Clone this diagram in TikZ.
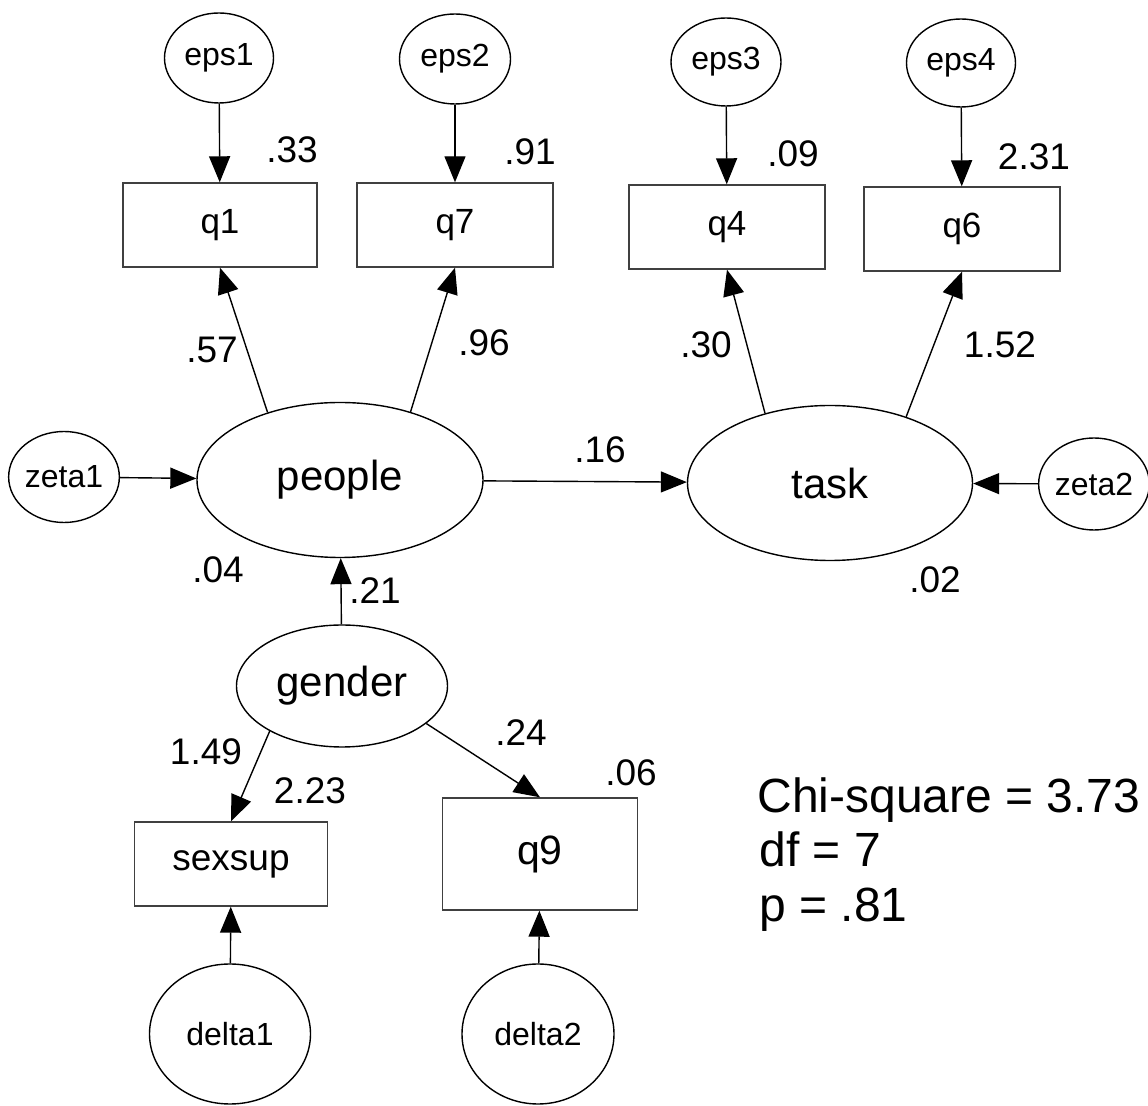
\documentclass[tikz,border=0pt]{standalone}
\usepackage{fontspec}
\setmainfont{Liberation Sans}
\usetikzlibrary{arrows.meta,shapes.geometric}
\begin{document}
\begin{tikzpicture}[x=0.5pt,y=-0.5pt,
  obs/.style={draw=black!75, line width=0.7pt, rectangle, inner sep=0pt, minimum width=97pt, minimum height=42pt, font=\fontsize{17.5}{20}\selectfont},
  lat/.style={draw, line width=0.7pt, ellipse, inner sep=0pt, font=\fontsize{21}{25}\selectfont},
  err/.style={draw, line width=0.7pt, ellipse, inner sep=0pt, font=\fontsize{16}{19}\selectfont},
  lbl/.style={inner sep=0pt, font=\fontsize{18.5}{21}\selectfont},
  stat/.style={inner sep=0pt, anchor=base west, font=\fontsize{24}{28}\selectfont},
  conn/.style={line width=0.7pt, -{Triangle[length=13pt,width=10.5pt]}},
]
\useasboundingbox (0,0) rectangle (1148,1106);

% error terms of indicators
\node[err, minimum width=54.5pt, minimum height=45pt] (eps1) at (219,58) {eps1};
\node[err, minimum width=55.5pt, minimum height=45pt] (eps2) at (455,59) {eps2};
\node[err, minimum width=55pt, minimum height=44pt] (eps3) at (726,62) {eps3};
\node[err, minimum width=54.5pt, minimum height=44pt] (eps4) at (961,63) {eps4};

% indicators
\node[obs] (q1) at (220,225) {q1};
\node[obs, minimum width=98pt] (q7) at (455,225) {q7};
\node[obs, minimum width=98pt] (q4) at (727,227) {q4};
\node[obs, minimum width=98pt] (q6) at (962,229) {q6};

% latent variables
\node[lat, minimum width=143pt, minimum height=77.5pt] (people) at (340,480) {people};
\node[lat, minimum width=142.5pt, minimum height=77.5pt] (task) at (830,483) {task};
\node[lat, minimum width=105.5pt, minimum height=61pt] (gender) at (342,686) {gender};

\node[err, minimum width=53pt, minimum height=45.5pt] (zeta1) at (64,477) {zeta1};
\node[err, minimum width=52.5pt, minimum height=46pt] (zeta2) at (1094,484) {zeta2};

% gender indicators
\node[obs, minimum width=96.5pt, minimum height=42pt, font=\fontsize{18.5}{21}\selectfont] (sexsup) at (231,864) {sexsup};
\node[obs, minimum width=97.5pt, minimum height=56pt, font=\fontsize{20.5}{24}\selectfont] (q9) at (540,854) {q9};

\node[err, minimum width=80.5pt, minimum height=70pt] (delta1) at (230,1034) {delta1};
\node[err, minimum width=76pt, minimum height=70pt] (delta2) at (538,1034) {delta2};

% connectors
\draw[conn] (eps1) -- (q1);
\draw[conn] (eps2) -- (q7);
\draw[conn] (eps3) -- (q4);
\draw[conn] (eps4) -- (q6);
\draw[conn] (people.137) -- (q1.south);
\draw[conn] (people.44) -- (q7.south);
\draw[conn] (task.133) -- (q4.south);
\draw[conn] (task.41) -- (q6.south);
\draw[conn] (zeta1) -- (people);
\draw[conn] (people) -- (task);
\draw[conn] (zeta2) -- (task);
\draw[conn] (gender) -- (people);
\draw[conn] (gender.212) -- (sexsup.north);
\draw[conn] (gender.336) -- (q9.north);
\draw[conn] (delta1) -- (sexsup);
\draw[conn] (delta2) -- (q9);

% estimates
\node[lbl] (l33) at (292,150) {.33};
\node[lbl] (l91) at (530,152) {.91};
\node[lbl] (l09) at (793,154) {.09};
\node[lbl] (l231) at (1034,157) {2.31};
\node[lbl] (l57) at (212,350) {.57};
\node[lbl] (l96) at (484,343) {.96};
\node[lbl] (l30) at (706,345) {.30};
\node[lbl] (l152) at (1000,345) {1.52};
\node[lbl] (l16) at (600,450) {.16};
\node[lbl] (l04) at (218,570) {.04};
\node[lbl] (l21) at (375,591) {.21};
\node[lbl] (l02) at (935,580) {.02};
\node[lbl] (l149) at (206,752) {1.49};
\node[lbl] (l223) at (310,791) {2.23};
\node[lbl] (l24) at (521,733) {.24};
\node[lbl] (l06) at (631,773) {.06};

% fit statistics
\node[stat] (chi) at (757,813) {Chi-square = 3.73};
\node[stat] (df) at (759,867) {df = 7};
\node[stat] (pv) at (759,922) {p = .81};
\end{tikzpicture}
\end{document}
